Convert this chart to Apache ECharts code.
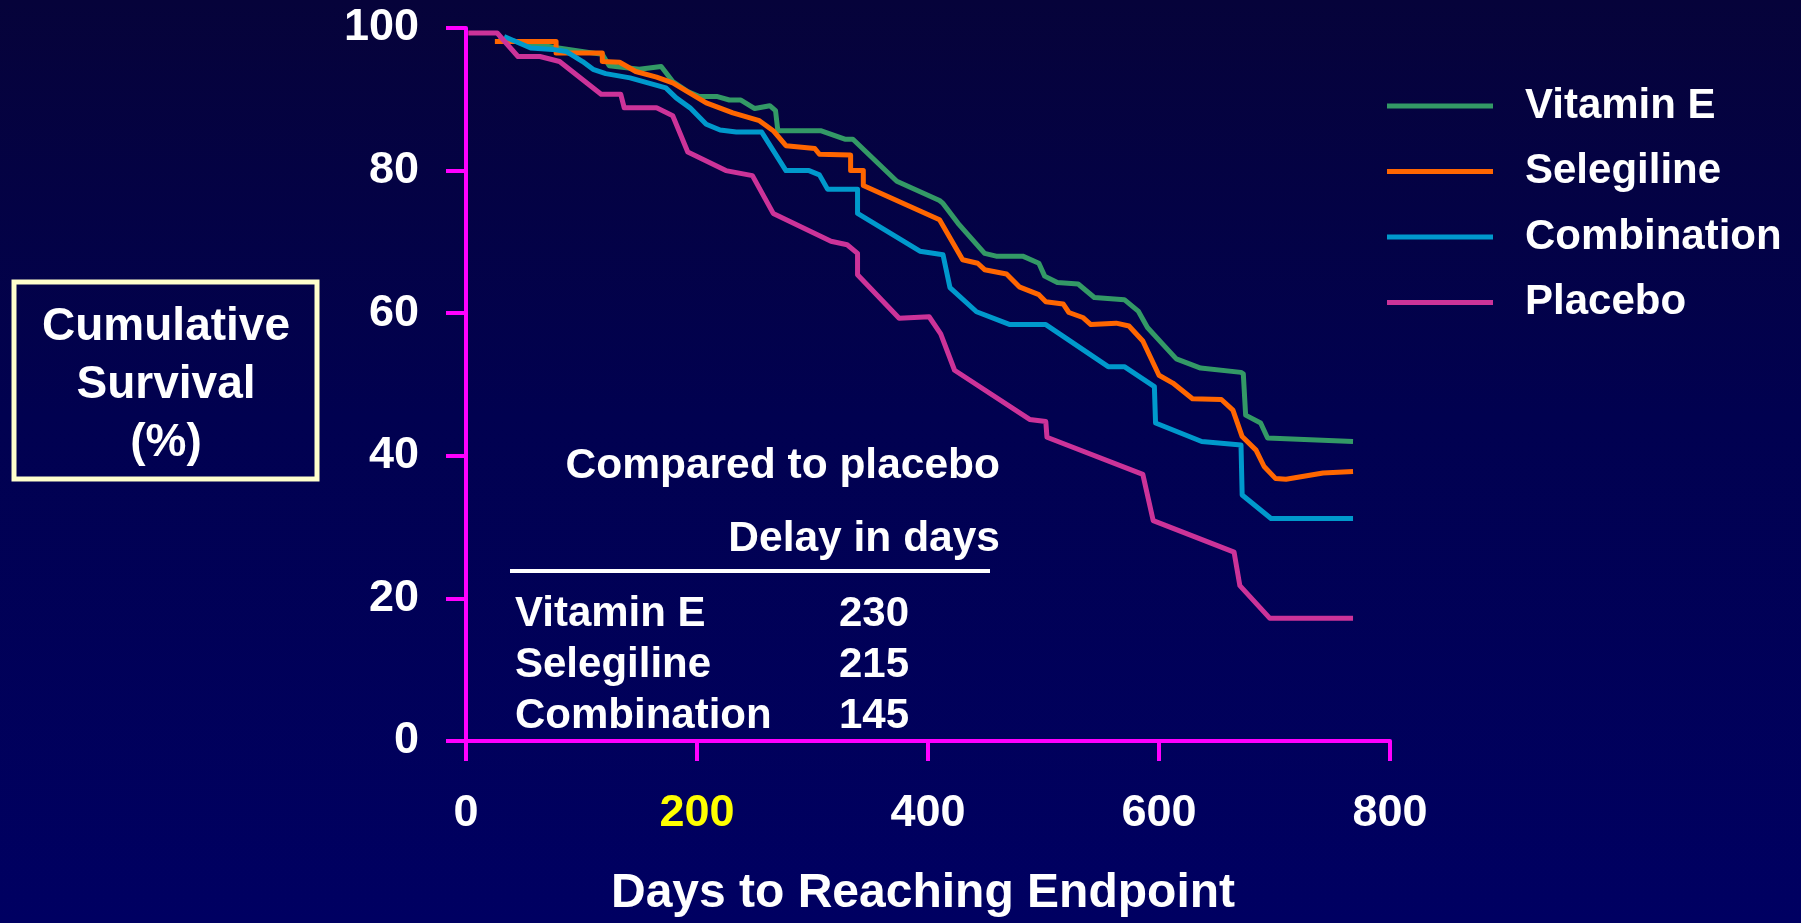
<!DOCTYPE html>
<html>
<head>
<meta charset="utf-8">
<script src="https://cdn.jsdelivr.net/npm/echarts@6/dist/echarts.min.js"></script>
<style>
  html, body { margin: 0; padding: 0; }
  #chart { width: 1801px; height: 923px;
    background: linear-gradient(to bottom, #06033a 0%, #010150 45%, #000062 100%); }
</style>
</head>
<body>
<div id="chart"></div>
<script>
// ---- data (days, cumulative survival %) ----
const seriesNames = ['Vitamin E', 'Selegiline', 'Combination', 'Placebo'];
const seriesColors = ['#339966', '#FF6600', '#0099CC', '#CC3399'];

const vitaminE = [[28,98.5],[80,97.2],[118,96.3],[124,94.7],[150,94.2],[169,94.6],[179,92.5],[192,91.1],[202,90.4],[217,90.4],[228,89.9],[238,89.9],[250,88.7],[263,89.1],[268,88.4],[270,85.6],[307,85.6],[328,84.4],[335,84.4],[373,78.5],[410,75.8],[413,75.4],[426,72.6],[449,68.4],[459,68.0],[482,68.0],[496,67.0],[501,65.2],[512,64.3],[530,64.1],[544,62.2],[570,61.9],[582,60.3],[590,58.0],[603,55.7],[615,53.6],[636,52.3],[671,51.7],[673,51.5],[675,45.7],[688,44.6],[694,42.5],[768,42.0]];

const selegiline = [[25,98.1],[78,98.1],[78,96.5],[118,96.5],[118,95.3],[133,95.2],[147,93.9],[165,93.1],[179,92.3],[208,89.5],[231,88.1],[254,87.0],[266,85.6],[277,83.5],[302,83.1],[306,82.3],[333,82.2],[333,80.0],[344,80.0],[344,77.9],[410,73.1],[430,67.5],[443,67.0],[449,66.1],[468,65.5],[479,63.7],[496,62.6],[502,61.6],[517,61.3],[522,60.1],[534,59.4],[541,58.4],[563,58.6],[574,58.2],[586,56.1],[600,51.3],[612,50.2],[629,48.0],[654,47.9],[664,46.4],[672,42.7],[684,40.8],[691,38.5],[701,36.8],[710,36.7],[742,37.6],[768,37.8]];

const combination = [[33,98.8],[56,97.2],[75,97.0],[87,96.7],[101,95.3],[110,94.2],[121,93.6],[142,93.0],[173,91.6],[182,90.2],[194,88.8],[208,86.5],[220,85.7],[234,85.4],[256,85.4],[277,80.0],[297,80.0],[306,79.4],[313,77.4],[339,77.4],[339,74.0],[393,68.7],[413,68.2],[419,63.6],[442,60.2],[471,58.4],[502,58.4],[556,52.5],[570,52.5],[596,49.7],[597,44.6],[637,42.0],[671,41.5],[672,34.5],[697,31.2],[768,31.2]];

const placebo = [[2,99.3],[27,99.3],[45,96.0],[64,96.0],[81,95.3],[117,90.7],[134,90.7],[137,88.8],[165,88.8],[179,87.7],[192,82.6],[225,80.0],[248,79.3],[266,74.0],[316,70.1],[330,69.6],[339,68.4],[339,65.4],[375,59.3],[401,59.5],[411,57.1],[423,52.0],[488,45.1],[502,44.8],[503,42.6],[586,37.4],[595,30.9],[665,26.5],[670,21.8],[696,17.2],[768,17.2]];

const highlightedTick = 200;
const yAxisTitle = ['Cumulative', 'Survival', '(%)'];
const xAxisTitle = 'Days to Reaching Endpoint';
const tableTitle = 'Compared to placebo';
const tableHeader = 'Delay in days';
const tableRows = ['Vitamin E', 'Selegiline', 'Combination'];
const tableDelays = [230, 215, 145];

const allData = [vitaminE, selegiline, combination, placebo];
const FONT = '"Liberation Sans", Arial, sans-serif';

const chart = echarts.init(document.getElementById('chart'), null, { renderer: 'canvas' });

const graphics = [
  { type: 'rect', shape: { x: 14, y: 282, width: 303, height: 197 },
    style: { fill: 'none', stroke: '#FFFFCC', lineWidth: 5 } },
  { type: 'line', shape: { x1: 510, y1: 571, x2: 990, y2: 571 },
    style: { stroke: '#FFFFFF', lineWidth: 4 } },
  { type: 'text', x: 1000, y: 466, style: { text: tableTitle, fill: '#fff', font: 'bold 42.5px ' + FONT, textAlign: 'right', textVerticalAlign: 'middle' } },
  { type: 'text', x: 1000, y: 539, style: { text: tableHeader, fill: '#fff', font: 'bold 42.5px ' + FONT, textAlign: 'right', textVerticalAlign: 'middle' } }
];
const boxY = [327, 385, 443];
yAxisTitle.forEach((t, i) => graphics.push({
  type: 'text', x: 166, y: boxY[i],
  style: { text: t, fill: '#fff', font: 'bold 46px ' + FONT, textAlign: 'center', textVerticalAlign: 'middle' }
}));
const rowY = [614, 665, 716];
tableRows.forEach((t, i) => {
  graphics.push({ type: 'text', x: 515, y: rowY[i],
    style: { text: t, fill: '#fff', font: 'bold 42px ' + FONT, textAlign: 'left', textVerticalAlign: 'middle' } });
  graphics.push({ type: 'text', x: 839, y: rowY[i],
    style: { text: String(tableDelays[i]), fill: '#fff', font: 'bold 42px ' + FONT, textAlign: 'left', textVerticalAlign: 'middle' } });
});

const option = {
  backgroundColor: 'transparent',
  animation: false,
  grid: { left: 466, right: 411, top: 28, bottom: 176, containLabel: false },
  legend: {
    orient: 'vertical', left: 1387, top: 84, itemGap: 21.5, padding: 0,
    itemWidth: 106, itemHeight: 5, icon: 'rect',
    data: seriesNames,
    textStyle: { color: '#fff', fontSize: 42, fontWeight: 'bold', fontFamily: FONT, lineHeight: 44, padding: [0, 0, 0, 27] }
  },
  xAxis: {
    type: 'value', min: 0, max: 800, interval: 200,
    name: xAxisTitle, nameLocation: 'middle', nameGap: 129,
    nameTextStyle: { color: '#fff', fontSize: 48, fontWeight: 'bold', fontFamily: FONT, padding: [0, 10, 0, 0] },
    axisLine: { show: true, lineStyle: { color: '#FF00FF', width: 4 } },
    axisTick: { show: true, length: 20, inside: false, lineStyle: { color: '#FF00FF', width: 4 } },
    splitLine: { show: false },
    axisLabel: { margin: 50, fontSize: 45, fontWeight: 'bold', fontFamily: FONT,
      color: (v) => Number(v) === highlightedTick ? '#FFFF00' : '#FFFFFF' }
  },
  yAxis: {
    type: 'value', min: 0, max: 100, interval: 20,
    axisLine: { show: true, lineStyle: { color: '#FF00FF', width: 4 } },
    axisTick: { show: true, length: 20, inside: false, lineStyle: { color: '#FF00FF', width: 4 } },
    splitLine: { show: false },
    axisLabel: { margin: 47, fontSize: 45, fontWeight: 'bold', fontFamily: FONT, color: '#FFFFFF' }
  },
  series: seriesNames.map((name, i) => ({
    name, type: 'line', data: allData[i], showSymbol: false, symbol: 'none',
    lineStyle: { color: seriesColors[i], width: 5, join: 'round' },
    itemStyle: { color: seriesColors[i] },
    z: 2 + i
  })),
  graphic: graphics
};
chart.setOption(option);
</script>
</body>
</html>
